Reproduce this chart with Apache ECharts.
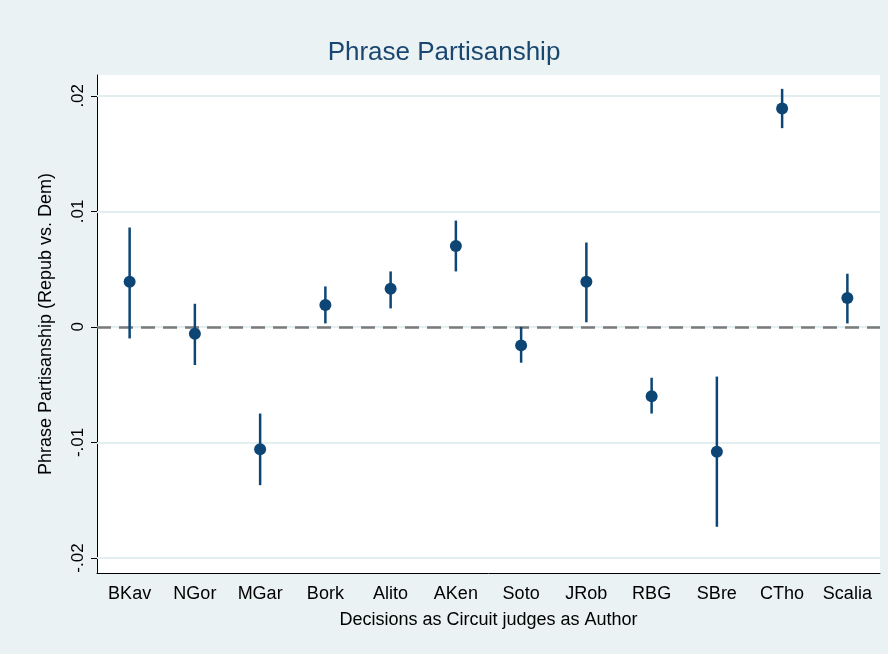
<!DOCTYPE html>
<html>
<head>
<meta charset="utf-8">
<script src="https://cdn.jsdelivr.net/npm/echarts@6/dist/echarts.min.js"></script>
<style>html,body{margin:0;padding:0;background:#eaf2f3}</style>
</head>
<body>
<div id="main" style="width:888px;height:654px"></div>
<script>
var judges = ['BKav', 'NGor', 'MGar', 'Bork', 'Alito', 'AKen', 'Soto', 'JRob', 'RBG', 'SBre', 'CTho', 'Scalia'];
var estimate = [0.0039, -0.0006, -0.0106, 0.0019, 0.0033, 0.0070, -0.0016, 0.0039, -0.0060, -0.0108, 0.0189, 0.0025];
var upper = [0.0086, 0.0020, -0.0075, 0.0035, 0.0048, 0.0092, 0.0000, 0.0073, -0.0044, -0.0043, 0.0206, 0.0046];
var lower = [-0.0010, -0.0033, -0.0137, 0.0003, 0.0016, 0.0048, -0.0031, 0.0004, -0.0075, -0.0173, 0.0172, 0.0003];
var yTicks = [-0.02, -0.01, 0, 0.01, 0.02];
var navy = '#0d4574';

function fmt(v) {
    if (Math.abs(v) < 1e-9) return '0';
    return (v < 0 ? '-' : '') + String(Math.abs(v).toFixed(2)).replace(/^0/, '');
}

var chart = echarts.init(document.getElementById('main'));
chart.setOption({
    backgroundColor: '#eaf2f3',
    animation: false,
    title: {
        text: 'Phrase Partisanship', left: 'center', top: 35,
        textStyle: {color: '#1a476f', fontSize: 26, fontWeight: 'normal', fontFamily: 'Liberation Sans'}
    },
    grid: {left: 97, right: 8, top: 75, bottom: 81, show: true, backgroundColor: '#fff', borderWidth: 0},
    xAxis: {
        type: 'category', data: judges,
        name: 'Decisions as Circuit judges as Author', nameLocation: 'middle', nameGap: 38,
        nameTextStyle: {color: '#000', fontSize: 18, fontFamily: 'Liberation Sans'},
        axisLine: {onZero: false, lineStyle: {color: '#000'}},
        axisTick: {alignWithLabel: true, length: 6, lineStyle: {color: '#000'}},
        axisLabel: {color: '#000', fontSize: 18, fontFamily: 'Liberation Sans', margin: 12}
    },
    yAxis: {
        type: 'value', min: -0.0213, max: 0.0218,
        name: 'Phrase Partisanship (Repub vs. Dem)', nameLocation: 'middle', nameGap: 42,
        nameTextStyle: {color: '#000', fontSize: 18, fontFamily: 'Liberation Sans'},
        axisLine: {show: true, lineStyle: {color: '#000'}},
        axisTick: {show: true, length: 6, customValues: yTicks, lineStyle: {color: '#000'}},
        axisLabel: {color: '#000', fontSize: 17, fontFamily: 'Liberation Sans', rotate: 90,
            customValues: yTicks, formatter: fmt, margin: 10},
        splitLine: {show: false}
    },
    series: [
        {
            type: 'custom',
            data: judges.map(function (j, i) { return [i, lower[i], upper[i]]; }),
            renderItem: function (params, api) {
                var a = api.coord([api.value(0), api.value(1)]);
                var b = api.coord([api.value(0), api.value(2)]);
                return {type: 'line', shape: {x1: a[0], y1: a[1], x2: b[0], y2: b[1]},
                    style: {stroke: navy, lineWidth: 2.5}};
            },
            z: 3,
            markLine: {
                silent: true, symbol: 'none', label: {show: false}, z: 1,
                lineStyle: {color: '#e3eef0', type: 'solid', width: 2},
                data: yTicks.map(function (v) { return {yAxis: v}; })
            }
        },
        {
            type: 'scatter', symbolSize: 12, itemStyle: {color: navy, opacity: 1},
            data: estimate, z: 4,
            markLine: {
                silent: true, symbol: 'none', label: {show: false}, z: 2,
                lineStyle: {color: '#7a7a7a', type: [14, 8], width: 2.5},
                data: [{yAxis: 0}]
            }
        }
    ]
});
</script>
</body>
</html>
